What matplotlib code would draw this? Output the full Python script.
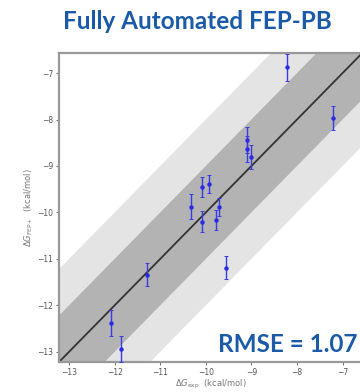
import numpy as np
import matplotlib.pyplot as plt

# experimental vs predicted binding free energies (kcal/mol)
dg_exp = [-8.22, -7.22, -9.10, -9.10, -9.01, -10.08, -9.93, -10.32, -10.08,
          -9.71, -9.77, -11.30, -9.55, -12.09, -11.87]
dg_fep = [-6.87, -7.97, -8.44, -8.63, -8.81, -9.45, -9.39, -9.88, -10.20,
          -9.88, -10.16, -11.34, -11.19, -12.38, -12.94]
dg_err = [0.29, 0.26, 0.28, 0.28, 0.26, 0.22, 0.20, 0.27, 0.23,
          0.20, 0.22, 0.25, 0.25, 0.27, 0.27]
ticks = [-13, -12, -11, -10, -9, -8, -7]
lims = (-13.22, -6.57)
title = 'Fully Automated FEP-PB'
rmse_label = 'RMSE = 1.07'

blue = '#1a5aa8'

fig = plt.figure(figsize=(3.6, 3.92), dpi=100)
ax = fig.add_axes([0.164, 0.0765, 0.842, 0.788])

xx = np.array([lims[0] - 1, lims[1] + 1])
ax.fill_between(xx, xx - 2, xx + 2, color='#e4e4e4', lw=0, zorder=0)
ax.fill_between(xx, xx - 1, xx + 1, color='#b3b3b3', lw=0, zorder=1)
ax.plot(xx, xx, color='#333333', lw=1.3, zorder=2)

ax.errorbar(dg_exp, dg_fep, yerr=dg_err, fmt='o', ms=2.2, color='#2a2ae6',
            ecolor='#3a3ae6', elinewidth=1.0, capsize=1.2, capthick=0.7, zorder=3)

ax.set_xlim(lims)
ax.set_ylim(lims)
ax.set_xticks(ticks)
ax.set_yticks(ticks)
ax.set_xticklabels(['\u2212%d' % -t for t in ticks])
ax.set_yticklabels(['\u2212%d' % -t for t in ticks])
ax.tick_params(labelsize=5.5, colors='#555555', length=2, width=0.6, pad=2)
for s in ax.spines.values():
    s.set_color('#999999')
    s.set_linewidth(1.6)

ax.set_xlabel(r'$\Delta G_{\mathrm{exp}}$  (kcal/mol)', fontsize=6, color='#777777', labelpad=1)
ax.set_ylabel(r'$\Delta G_{\mathrm{FEP+}}$  (kcal/mol)', fontsize=6, color='#777777', labelpad=2)

fig.text(0.548, 0.945, title, fontsize=17.5, fontweight='bold', family='Lato',
         color=blue, ha='center', va='center')
fig.text(0.993, 0.12, rmse_label, fontsize=17.5, fontweight='bold', family='Lato',
         color=blue, ha='right', va='center')

fig.savefig('out.png', dpi=100)
